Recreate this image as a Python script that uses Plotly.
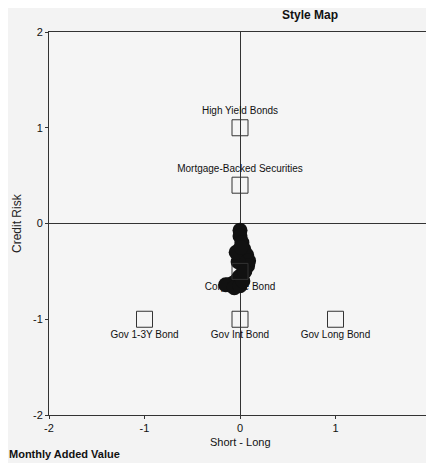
import plotly.graph_objects as go

# Style benchmarks
bench_names = ["High Yield Bonds", "Mortgage-Backed Securities", "Corporate Bond",
               "Gov 1-3Y Bond", "Gov Int Bond", "Gov Long Bond"]
bench_x = [0, 0, 0, -1, 0, 1]
bench_y = [1, 0.4, -0.5, -1, -1, -1]
bench_pos = ["top center", "top center", "bottom center",
             "bottom center", "bottom center", "bottom center"]

# Rolling style trail of the fund
trail_x = [0.0, 0.0, 0.02, 0.04, 0.07, 0.09, 0.08, 0.05, 0.02, -0.01, -0.03, -0.05, -0.08, -0.12, -0.15,
           -0.06, 0.0, 0.03, -0.02, -0.04, 0.01, 0.05]
trail_y = [-0.07, -0.13, -0.2, -0.27, -0.33, -0.39, -0.44, -0.49, -0.53, -0.56, -0.59, -0.61, -0.63, -0.64, -0.64,
           -0.67, -0.65, -0.6, -0.4, -0.3, -0.25, -0.5]

tick_vals = [-2, -1, 0, 1, 2]
tick_text = ["-2", "-1", "0", "1", "2"]

FONT = "Liberation Sans, Arial, sans-serif"

fig = go.Figure()
fig.add_trace(go.Scatter(
    x=trail_x, y=trail_y, mode="markers",
    marker=dict(symbol="circle", size=15, color="#111111"),
    showlegend=False, hoverinfo="skip"))
fig.add_trace(go.Scatter(
    x=bench_x, y=bench_y, mode="markers+text",
    text=bench_names, textposition=bench_pos,
    textfont=dict(family=FONT, size=10, color="#111111"),
    marker=dict(symbol="square-open", size=16, color="#333333", line=dict(width=1)),
    showlegend=False, hoverinfo="skip"))

axis_common = dict(range=[-2, 2], tickvals=tick_vals, ticktext=tick_text, showgrid=False,
                   zeroline=True, zerolinecolor="#333333", zerolinewidth=1,
                   showline=True, linecolor="#333333", linewidth=1, mirror=True,
                   ticks="outside", ticklen=3, tickcolor="#333333", automargin=False,
                   tickfont=dict(family=FONT, size=11, color="#111111"))

fig.update_layout(
    width=426, height=455,
    margin=dict(l=41, r=3, t=24, b=48),
    paper_bgcolor="#f3f3f3", plot_bgcolor="#f5f5f5",
    xaxis=dict(**axis_common),
    yaxis=dict(**axis_common),
    title=dict(text="<b>Style Map</b>", x=0.709, xanchor="center", y=0.985, yanchor="middle",
               font=dict(family=FONT, size=12, color="#111111")),
    annotations=[
        dict(text="Short - Long", xref="paper", yref="paper", x=0.5, y=-0.05,
             xanchor="center", yanchor="top", showarrow=False,
             font=dict(family=FONT, size=11, color="#111111")),
        dict(text="Credit Risk", xref="paper", yref="paper", x=-0.085, y=0.5,
             xanchor="center", yanchor="middle", textangle=-90, showarrow=False,
             font=dict(family=FONT, size=12, color="#222222")),
        dict(text="<b>Monthly Added Value</b>", xref="paper", yref="paper",
             x=-0.11, y=-0.08, xanchor="left", yanchor="top", showarrow=False,
             font=dict(family=FONT, size=11, color="#111111")),
    ],
)

fig.write_html("out.html")
